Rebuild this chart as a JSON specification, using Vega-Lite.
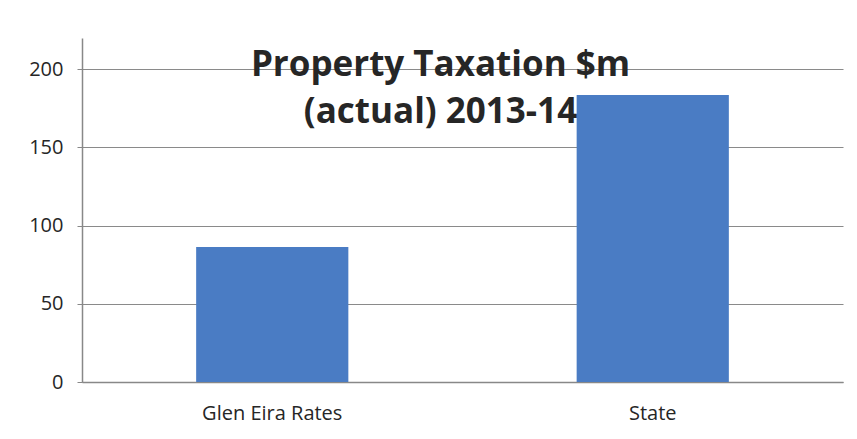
{
  "$schema": "https://vega.github.io/schema/vega-lite/v6.json",
  "width": 761,
  "height": 344,
  "autosize": "none",
  "padding": {"left": 82, "top": 38, "right": 14, "bottom": 57},
  "background": "white",
  "data": {"values": [
    {"category": "Glen Eira Rates", "value": 86.3},
    {"category": "State", "value": 183.5}
  ]},
  "title": {
    "text": ["Property Taxation $m", "(actual) 2013-14"],
    "font": "Open Sans",
    "fontSize": 35,
    "fontWeight": "bold",
    "color": "#262626",
    "anchor": "middle",
    "dx": -22,
    "baseline": "alphabetic",
    "offset": -120,
    "lineHeight": 47
  },
  "mark": {"type": "bar", "color": "#4a7cc4"},
  "encoding": {
    "x": {
      "field": "category",
      "type": "nominal",
      "sort": null,
      "scale": {"paddingInner": 0.6, "paddingOuter": 0.3},
      "axis": {
        "title": null,
        "labelAngle": 0,
        "labelFont": "Open Sans",
        "labelFontSize": 20,
        "labelColor": "#262626",
        "labelPadding": 21,
        "ticks": false,
        "domainColor": "#888888",
        "domainWidth": 1.5
      }
    },
    "y": {
      "field": "value",
      "type": "quantitative",
      "scale": {"domain": [0, 220], "nice": false},
      "axis": {
        "title": null,
        "values": [0, 50, 100, 150, 200],
        "labelFont": "Open Sans",
        "labelFontSize": 20,
        "labelColor": "#262626",
        "labelPadding": 14,
        "tickSize": 5,
        "tickColor": "#888888",
        "domainColor": "#888888",
        "domainWidth": 1.5,
        "gridColor": "#8a8a8a",
        "gridWidth": 1.2
      }
    }
  },
  "config": {"view": {"stroke": null}}
}
